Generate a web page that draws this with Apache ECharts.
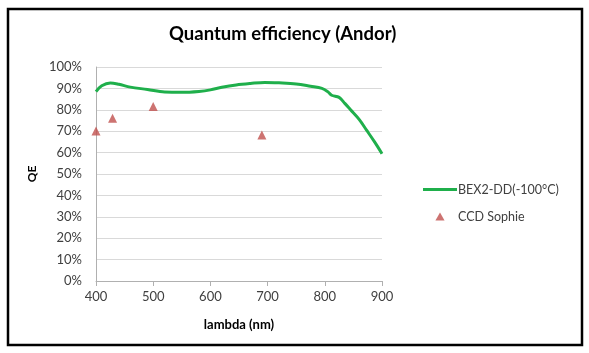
<!DOCTYPE html>
<html>
<head>
<meta charset="utf-8">
<script src="https://cdn.jsdelivr.net/npm/echarts@6/dist/echarts.min.js"></script>
<style>
  html, body { margin: 0; padding: 0; background: #fff; }
  #chart { width: 589px; height: 353px; }
</style>
</head>
<body>
<div id="chart"></div>
<script>
  // BEX2-DD(-100°C) curve (wavelength nm, QE %)
  var bexLambda = [400, 410, 425, 440, 460, 490, 520, 550, 580, 600, 620, 645, 670, 695, 720, 750, 775, 795, 805, 812, 825, 835, 845, 860, 873, 887, 900];
  var bexQE     = [88.5, 91.2, 92.5, 91.9, 90.6, 89.5, 88.3, 88.2, 88.6, 89.3, 90.5, 91.6, 92.3, 92.8, 92.6, 92.1, 91.0, 90.0, 88.5, 86.8, 85.8, 83.0, 80.0, 75.5, 70.5, 65.0, 59.5];

  // CCD Sophie points
  var sophieLambda = [400, 429, 500, 690];
  var sophieQE     = [70.1, 76.0, 81.5, 68.2];

  var xTicks = [400, 500, 600, 700, 800, 900];

  function pairs(xs, ys) {
    return xs.map(function (x, i) { return [x, ys[i]]; });
  }

  var chart = echarts.init(document.getElementById('chart'));
  var font = 'Lato, "Open Sans", sans-serif';
  var option = {
    animation: false,
    backgroundColor: '#fff',
    textStyle: { fontFamily: font },
    graphic: [{
      type: 'rect',
      shape: { x: 8, y: 9, width: 574, height: 336 },
      style: { fill: 'none', stroke: '#000', lineWidth: 2.5 },
      silent: true
    }],
    title: {
      text: 'Quantum efficiency (Andor)',
      left: 164,
      top: 20,
      textStyle: { fontFamily: font, fontSize: 18.5, fontWeight: 'bold', color: '#000' }
    },
    legend: {
      orient: 'vertical',
      left: 418,
      top: 178,
      itemGap: 14,
      itemWidth: 34,
      itemHeight: 8,
      symbolKeepAspect: true,
      textStyle: { fontFamily: font, fontSize: 12.5, color: '#404040', padding: [0, 0, 0, -4] },
      data: [
        { name: 'BEX2-DD(-100°C)', icon: 'path://M0,0H34V3H0Z' },
        { name: 'CCD Sophie', icon: 'path://M4,0L8,7L0,7Z' }
      ]
    },
    grid: { left: 96, right: 207, top: 67, bottom: 72 },
    xAxis: {
      type: 'value',
      min: 400,
      max: 900,
      interval: 100,
      name: 'lambda (nm)',
      nameLocation: 'middle',
      nameGap: 37,
      nameTextStyle: { fontFamily: font, fontSize: 13, fontWeight: 'bold', color: '#000' },
      axisLine: { show: true, lineStyle: { color: '#b0b0b0', width: 1 } },
      axisTick: { show: true, length: 5, lineStyle: { color: '#b0b0b0' } },
      axisLabel: {
        margin: 9,
        fontSize: 13,
        color: '#404040',
        formatter: function (v) { return xTicks.indexOf(v) >= 0 ? String(v) : ''; }
      },
      splitLine: { show: false }
    },
    yAxis: {
      type: 'value',
      min: 0,
      max: 100,
      interval: 10,
      name: 'QE',
      nameLocation: 'middle',
      nameGap: 58,
      nameRotate: 90,
      nameTextStyle: { fontFamily: font, fontSize: 12, fontWeight: 'bold', color: '#000' },
      axisLine: { show: true, lineStyle: { color: '#b0b0b0', width: 1 } },
      axisTick: { show: false },
      axisLabel: {
        margin: 14,
        fontSize: 13,
        color: '#404040',
        formatter: '{value}%'
      },
      splitLine: { lineStyle: { color: '#d9d9d9', width: 1 } }
    },
    series: [
      {
        name: 'BEX2-DD(-100°C)',
        type: 'line',
        smooth: 0.35,
        symbol: 'none',
        lineStyle: { color: '#1faf4b', width: 3 },
        itemStyle: { color: '#1faf4b' },
        data: pairs(bexLambda, bexQE),
        z: 3
      },
      {
        name: 'CCD Sophie',
        type: 'scatter',
        symbol: 'triangle',
        symbolSize: 9,
        itemStyle: { color: '#c0504d' },
        data: pairs(sophieLambda, sophieQE),
        z: 4
      }
    ]
  };
  chart.setOption(option);
</script>
</body>
</html>
